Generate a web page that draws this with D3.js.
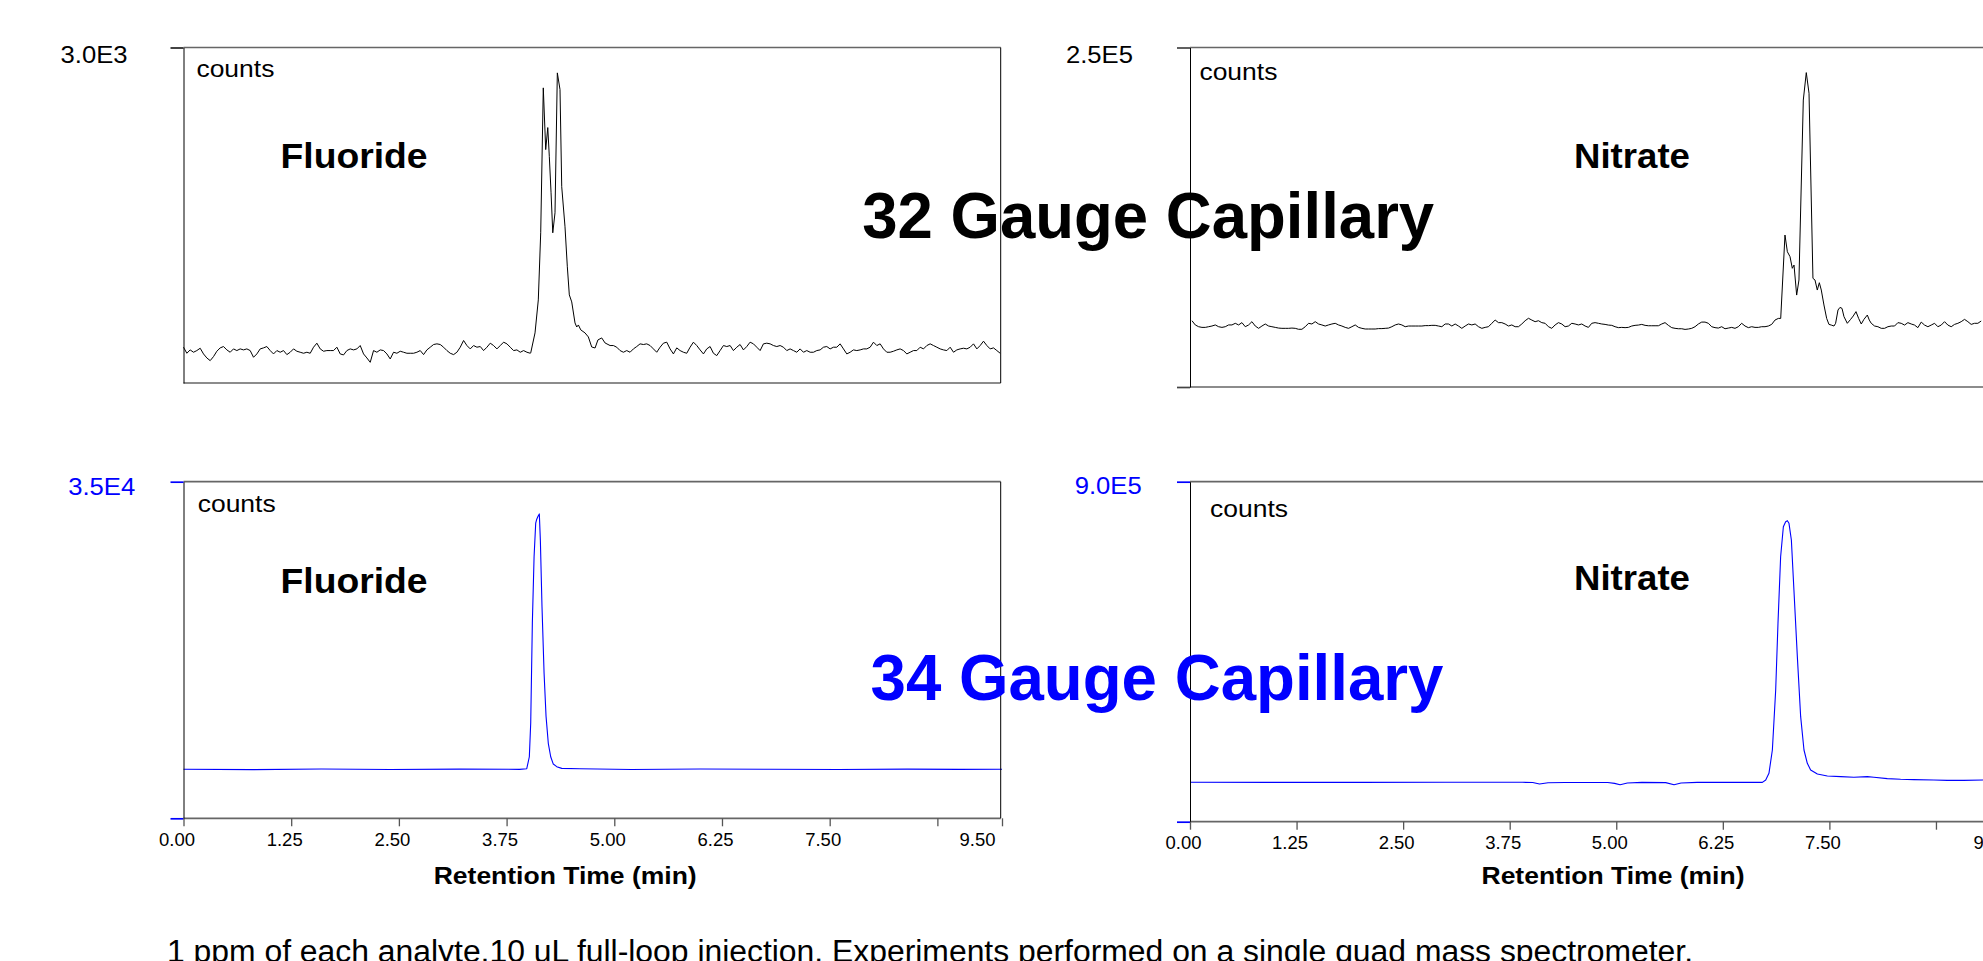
<!DOCTYPE html>
<html>
<head>
<meta charset="utf-8">
<script src="https://cdn.jsdelivr.net/npm/d3@7"></script>
<style>
  body { margin: 0; background: #fff; }
  svg { display: block; }
</style>
</head>
<body>
<svg id="chart"></svg>
<script>
// retention time axis (min)
const timeTicks = [0, 1.25, 2.5, 3.75, 5, 6.25, 7.5, 8.75, 9.5];

// full-scale counts of each trace
const fluoride32Max = 3000;
const nitrate32Max = 250000;
const fluoride34Max = 35000;
const nitrate34Max = 900000;

// 32 gauge, fluoride: baseline samples (every 0.0387 min) + peak points
const f32Step = 0.0387;
const f32Before = [
  320, 266, 296, 275, 290, 311, 260, 224, 200, 236,
  284, 314, 326, 296, 275, 305, 290, 305, 296, 305,
  290, 230, 260, 305, 314, 326, 290, 260, 290, 275,
  290, 254, 275, 305, 284, 275, 266, 275, 266, 320,
  356, 305, 284, 290, 290, 290, 320, 260, 251, 290,
  305, 296, 305, 335, 260, 224, 185, 290, 275, 296,
  290, 260, 215, 275, 266, 284, 275, 266, 266, 266,
  275, 290, 254, 296, 320, 344, 350, 344, 320, 290,
  266, 254, 275, 320, 380, 335, 305, 335, 320, 326,
  290, 320, 356, 335, 305, 335, 365, 350, 320, 290,
  296, 275, 290, 275, 266
];
const f32Peak = [
  [4.030, 269], [4.080, 448], [4.118, 743], [4.146, 1343], [4.176, 2639],
  [4.204, 2087], [4.228, 2284], [4.246, 2024], [4.266, 1701], [4.286, 1343],
  [4.312, 1522], [4.339, 2773], [4.370, 2624], [4.390, 1755], [4.428, 1397],
  [4.455, 1039], [4.478, 788], [4.506, 725], [4.544, 537], [4.564, 501],
  [4.583, 519], [4.611, 475], [4.660, 448], [4.699, 412], [4.738, 322],
  [4.777, 313], [4.810, 385], [4.854, 403], [4.893, 358]
];
const f32AfterStart = 4.951;
const f32After = [
  335, 335, 320, 290, 275, 290, 275, 305, 326, 350,
  344, 350, 335, 305, 275, 320, 356, 365, 305, 260,
  314, 290, 275, 266, 320, 365, 335, 296, 260, 305,
  326, 266, 245, 290, 335, 326, 335, 290, 320, 344,
  296, 326, 365, 350, 320, 290, 350, 356, 350, 335,
  326, 335, 320, 290, 305, 290, 275, 305, 275, 290,
  275, 275, 290, 296, 320, 326, 305, 320, 320, 350,
  305, 260, 275, 296, 290, 296, 305, 305, 320, 365,
  335, 350, 305, 275, 275, 284, 296, 305, 290, 260,
  275, 290, 290, 320, 305, 335, 350, 335, 320, 305,
  296, 290, 320, 275, 296, 305, 311, 305, 320, 350,
  305, 335, 374, 335, 305, 314, 290, 266
];

// 32 gauge, nitrate
const n32Step = 0.03908;
const n32BeforeStart = 0.023;
const n32Before = [
  48800, 45700, 44400, 43900, 43900, 44400, 44900, 45700, 44400, 43900,
  44400, 45700, 45700, 46900, 45700, 47400, 44400, 45700, 48100, 44900,
  43200, 44900, 46400, 44900, 44400, 43900, 43400, 43200, 43200, 43200,
  43400, 43200, 42500, 42500, 44400, 46900, 46400, 48100, 46400, 45700,
  44900, 45700, 46400, 46900, 45700, 44900, 43900, 43200, 44400, 45700,
  43900, 43200, 42700, 42700, 42700, 42700, 43000, 43000, 43200, 43400,
  44400, 45700, 46400, 45700, 44400, 44900, 44900, 44900, 44900, 44900,
  45200, 45200, 45400, 45400, 44900, 44400, 46400, 46400, 44900, 46400,
  44900, 43200, 44900, 46400, 45700, 46400, 44400, 43200, 43900, 44400,
  46900, 49300, 47400, 47400, 46400, 44900, 45700, 44400, 44400, 46400,
  48800, 50600, 49300, 48100, 48800, 47400, 46900, 44400, 43200, 45700,
  47400, 46400, 44400, 44900, 46900, 46400, 45700, 46400, 44900, 43900,
  46900, 47400, 46900, 46400, 46100, 45600, 45400, 44400, 43700, 43900,
  43700, 43900, 44900, 45400, 45600, 46100, 45400, 45100, 45100, 45100,
  45100, 46400, 47400, 45400, 43700, 43200, 42900, 42900, 42400, 42700,
  43200, 44400, 46400, 47800, 47800, 46900, 44400, 43700, 43400, 44400,
  42900, 43400, 43900, 43200, 44400, 46900, 44900, 43700, 44400, 43900,
  43900, 44400, 44400, 44900, 46100, 49300
];
const n32Peak = [
  [6.901, 50500], [6.929, 50500], [6.979, 111900], [7.007, 99600], [7.038, 96000],
  [7.065, 87400], [7.085, 89800], [7.116, 67700], [7.143, 78800], [7.194, 211300],
  [7.229, 231500], [7.261, 216300], [7.307, 80000], [7.331, 78800], [7.358, 71400],
  [7.382, 76800], [7.405, 71400], [7.436, 60400], [7.468, 50500], [7.495, 46100],
  [7.522, 45600], [7.554, 44900], [7.573, 46900], [7.601, 56700], [7.624, 58600],
  [7.648, 57900], [7.671, 51800], [7.710, 46900], [7.749, 49800], [7.780, 52300],
  [7.812, 55500], [7.843, 50500], [7.874, 46400], [7.905, 49800], [7.945, 53000],
  [7.968, 49300], [7.991, 46900]
];
const n32AfterStart = 8.030;
const n32After = [
  44900, 44400, 43200, 43200, 44400, 44900, 44900, 47400, 46900, 45600,
  47400, 46400, 45600, 43700, 47800, 45600, 44400, 45600, 46900, 44400,
  45600, 48100, 45600, 44400, 46100, 46900, 48100, 49800, 48100, 46100,
  46900, 46900, 48600
];

// 34 gauge traces [min, counts]
const fluoride34 = [
  [0, 5100], [0.8, 5060], [1.6, 5120], [2.4, 5080], [3.2, 5110], [3.9, 5090],
  [3.984, 5160], [4.014, 6400], [4.030, 9900], [4.049, 20300], [4.069, 27200],
  [4.088, 30700], [4.100, 31100], [4.115, 31400], [4.130, 31650], [4.142, 28900],
  [4.161, 22000], [4.185, 15100], [4.208, 10600], [4.234, 7800], [4.262, 6400],
  [4.292, 5640], [4.332, 5370], [4.390, 5190], [4.6, 5150], [5.2, 5080],
  [6.0, 5120], [6.8, 5100], [7.6, 5080], [8.4, 5110], [9.0, 5090], [9.5, 5100]
];
const nitrate34 = [
  [0, 104300], [1.0, 104200], [2.0, 104000], [3.0, 104300], [3.9, 104300],
  [4.02, 103800], [4.10, 99600], [4.20, 103000], [4.40, 103800], [4.90, 103800],
  [4.98, 101500], [5.045, 98000], [5.13, 102500], [5.30, 104000], [5.58, 103500],
  [5.678, 98000], [5.76, 102500], [5.95, 104000], [6.5, 104200], [6.714, 104200],
  [6.753, 110400], [6.791, 128000], [6.831, 189800], [6.870, 348600], [6.897, 525100],
  [6.928, 701500], [6.960, 780900], [6.987, 794200], [7.007, 796800], [7.026, 789800],
  [7.054, 745700], [7.084, 613300], [7.124, 436900], [7.163, 278000], [7.202, 189800],
  [7.241, 154500], [7.280, 136900], [7.359, 126300], [7.476, 121000], [7.632, 119200],
  [7.788, 117500], [7.945, 119200], [8.022, 117500], [8.179, 113900], [8.335, 112200],
  [8.491, 111300], [8.726, 110400], [8.883, 109500], [9.077, 109500], [9.31, 110400]
];

const sampled = (t0, step, vals) => vals.map((v, i) => [t0 + i * step, v]);

const fluoride32 = [
  ...sampled(0, f32Step, f32Before),
  ...f32Peak,
  ...sampled(f32AfterStart, f32Step, f32After)
];
const nitrate32 = [
  ...sampled(n32BeforeStart, n32Step, n32Before),
  ...n32Peak,
  ...sampled(n32AfterStart, n32Step, n32After)
];

const W = 1983, H = 961;
const FONT = "'Liberation Sans', Arial, sans-serif";
const BLUE = "#0000ff";

const svg = d3.select("#chart").attr("width", W).attr("height", H)
  .attr("font-family", FONT);

const panels = [
  { series: fluoride32, yMax: fluoride32Max, left: 183.5, right: 1000.7, xEnd: 1002,
    top: 47.5, bottom: 383, line: "#000", lineW: 1, tickColor: "#222", labelColor: "#000",
    labelEnd: 55.9, labelDy: 15, counts: [12.9, 29.5], name: "Fluoride", nameW: 147,
    namePos: [97.1, 120.8], xAxis: false, bottomTick: false },
  { series: nitrate32, yMax: nitrate32Max, left: 1190, right: 2007, xEnd: 1999.9,
    top: 47.5, bottom: 387, line: "#000", lineW: 1, tickColor: "#444", labelColor: "#000",
    labelEnd: 57.1, labelDy: 15, counts: [9.4, 32], name: "Nitrate", nameW: 116,
    namePos: [384, 120.8], xAxis: false, bottomTick: true },
  { series: fluoride34, yMax: fluoride34Max, left: 183.5, right: 1000.7, xEnd: 1002,
    top: 481.7, bottom: 818.3, line: BLUE, lineW: 1.1, tickColor: BLUE, labelColor: BLUE,
    labelEnd: 48.3, labelDy: 13.5, counts: [14.2, 30], name: "Fluoride", nameW: 147,
    namePos: [97.1, 111.6], xAxis: true, axisTitleX: 250.2, endLabelDx: -25, bottomTick: true },
  { series: nitrate34, yMax: nitrate34Max, left: 1190, right: 2007, xEnd: 1999.9,
    top: 481.7, bottom: 821.7, line: BLUE, lineW: 1.1, tickColor: BLUE, labelColor: BLUE,
    labelEnd: 48.3, labelDy: 12, counts: [20, 35.6], name: "Nitrate", nameW: 116,
    namePos: [384, 108.3], xAxis: true, axisTitleX: 291.5, endLabelDx: -9, bottomTick: true }
];

const fmtE = v => d3.format(".1e")(v).replace("e+", "E");

panels.forEach(p => {
  const x = d3.scaleLinear().domain([0, 9.5]).range([p.left, p.xEnd]);
  const y = d3.scaleLinear().domain([0, p.yMax]).range([p.bottom, p.top]);
  const g = svg.append("g");

  // trace
  g.append("path")
    .datum(p.series)
    .attr("fill", "none")
    .attr("stroke", p.line)
    .attr("stroke-width", p.lineW)
    .attr("stroke-linejoin", "round")
    .attr("d", d3.line().x(d => x(d[0])).y(d => y(d[1])));

  // frame: gray top / bottom, black sides
  g.append("line")
    .attr("x1", p.left).attr("x2", p.right).attr("y1", p.top).attr("y2", p.top)
    .attr("stroke", "#666").attr("stroke-width", 1.7);
  g.append("line")
    .attr("x1", p.left).attr("x2", p.right).attr("y1", p.bottom).attr("y2", p.bottom)
    .attr("stroke", "#666").attr("stroke-width", 1.7);
  g.append("line")
    .attr("x1", p.right).attr("x2", p.right).attr("y1", p.top).attr("y2", p.bottom)
    .attr("stroke", "#000").attr("stroke-width", 1);

  // y axis: only a tick at full scale and at zero
  const yAxis = d3.axisLeft(y)
    .tickValues(p.bottomTick ? [0, p.yMax] : [p.yMax])
    .tickSize(13).tickSizeOuter(0).tickFormat("");
  g.append("g")
    .call(yAxis)
    .attr("transform", `translate(${p.left},0)`)
    .call(a => a.select(".domain").attr("stroke", "#000").attr("stroke-width", 1))
    .call(a => a.selectAll(".tick line").attr("stroke", p.tickColor).attr("stroke-width", 1.7));

  g.append("text")
    .attr("x", p.left - p.labelEnd)
    .attr("y", p.top + p.labelDy)
    .attr("text-anchor", "end")
    .attr("font-size", 23)
    .attr("fill", p.labelColor)
    .attr("textLength", 67).attr("lengthAdjust", "spacingAndGlyphs")
    .text(fmtE(p.yMax));

  g.append("text")
    .attr("x", p.left + p.counts[0])
    .attr("y", p.top + p.counts[1])
    .attr("font-size", 24)
    .attr("textLength", 78).attr("lengthAdjust", "spacingAndGlyphs")
    .text("counts");

  g.append("text")
    .attr("x", p.left + p.namePos[0])
    .attr("y", p.top + p.namePos[1])
    .attr("font-size", 35)
    .attr("font-weight", "bold")
    .attr("textLength", p.nameW).attr("lengthAdjust", "spacingAndGlyphs")
    .text(p.name);

  if (p.xAxis) {
    const xAxis = d3.axisBottom(x)
      .tickValues(timeTicks)
      .tickSize(8).tickSizeOuter(0).tickPadding(7)
      .tickFormat(d => d === 8.75 ? "" : d3.format(".2f")(d));
    g.append("g")
      .attr("transform", `translate(0,${p.bottom})`)
      .call(xAxis)
      .attr("font-size", 17.5).attr("font-family", FONT)
      .call(a => a.select(".domain").remove())
      .call(a => a.selectAll(".tick line").attr("stroke", "#555").attr("stroke-width", 1.3))
      .call(a => a.selectAll(".tick text")
        .attr("dx", d => d === 9.5 ? p.endLabelDx : -7).attr("fill", "#000")
        .filter(d => d !== 8.75)
        .attr("textLength", 36).attr("lengthAdjust", "spacingAndGlyphs"));

    g.append("text")
      .attr("x", p.left + p.axisTitleX)
      .attr("y", 884)
      .attr("font-size", 23)
      .attr("font-weight", "bold")
      .attr("textLength", 263).attr("lengthAdjust", "spacingAndGlyphs")
      .text("Retention Time (min)");
  }
});

// capillary titles across the panels
svg.append("text")
  .attr("x", 862.2).attr("y", 238.3)
  .attr("font-size", 64).attr("font-weight", "bold")
  .attr("textLength", 572).attr("lengthAdjust", "spacingAndGlyphs")
  .text("32 Gauge Capillary");

svg.append("text")
  .attr("x", 870.5).attr("y", 700)
  .attr("font-size", 64).attr("font-weight", "bold")
  .attr("fill", BLUE)
  .attr("textLength", 573).attr("lengthAdjust", "spacingAndGlyphs")
  .text("34 Gauge Capillary");

// footnote (runs off the bottom edge)
svg.append("text")
  .attr("x", 167).attr("y", 962)
  .attr("font-size", 31)
  .attr("textLength", 1526).attr("lengthAdjust", "spacingAndGlyphs")
  .text("1 ppm of each analyte,10 uL full-loop injection. Experiments performed on a single quad mass spectrometer.");
</script>
</body>
</html>
